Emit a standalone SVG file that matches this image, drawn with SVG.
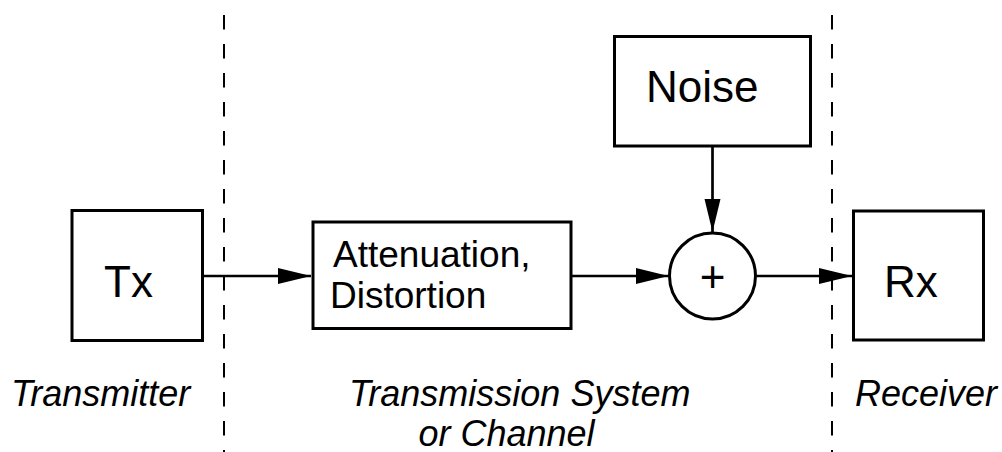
<svg xmlns="http://www.w3.org/2000/svg" width="1002" height="452" viewBox="0 0 1002 452">
  <defs>
    <style>
      .box { fill: #ffffff; stroke: #000000; stroke-width: 3; }
      .wire { fill: none; stroke: #000000; stroke-width: 2.7; }
      .divider { fill: none; stroke: #000000; stroke-width: 2; stroke-dasharray: 14.5 14.5; }
      .label { font-family: "Liberation Sans", Arial, Helvetica, sans-serif; fill: #000000; }
      .big { font-size: 44px; }
      .mid { font-size: 37px; }
      .caption { font-size: 36px; font-style: italic; }
    </style>
    <marker id="arrow" markerUnits="userSpaceOnUse" markerWidth="34" markerHeight="17" refX="33" refY="8" orient="auto">
      <path d="M0,0 L33,8 L0,16 Z" fill="#000000"/>
    </marker>
  </defs>

  <rect width="1002" height="452" fill="#ffffff"/>

  <!-- section dividers -->
  <g id="dividers">
    <line class="divider" x1="224" y1="15" x2="224" y2="452"/>
    <line class="divider" x1="832" y1="15" x2="832" y2="452"/>
  </g>

  <!-- signal path -->
  <g id="connectors">
    <line class="wire" x1="203" y1="276" x2="311" y2="276" marker-end="url(#arrow)"/>
    <line class="wire" x1="571" y1="276" x2="668.5" y2="276" marker-end="url(#arrow)"/>
    <line class="wire" x1="712.5" y1="146" x2="712.5" y2="232" marker-end="url(#arrow)"/>
    <line class="wire" x1="756.5" y1="276" x2="852" y2="276" marker-end="url(#arrow)"/>
  </g>

  <g id="tx">
    <rect class="box" x="72" y="210.5" width="130.5" height="130"/>
    <text class="label big" x="104" y="297">Tx</text>
  </g>

  <g id="channel">
    <rect class="box" x="313" y="222" width="258" height="106.5"/>
    <text class="label mid" x="333" y="266.5">Attenuation,</text>
    <text class="label mid" x="330" y="307.5">Distortion</text>
  </g>

  <g id="noise">
    <rect class="box" x="614.5" y="36.5" width="196" height="109.5"/>
    <text class="label big" x="646" y="101.5">Noise</text>
  </g>

  <g id="sum">
    <circle class="box" cx="712.5" cy="276" r="43" stroke-width="2.7"/>
    <text class="label big" x="712.5" y="292" text-anchor="middle">+</text>
  </g>

  <g id="rx">
    <rect class="box" x="853.5" y="211" width="130" height="129"/>
    <text class="label big" x="884" y="296.5">Rx</text>
  </g>

  <!-- section captions -->
  <g id="captions">
    <text class="label caption" x="11" y="405.5">Transmitter</text>
    <text class="label caption" x="349" y="405.5">Transmission System</text>
    <text class="label caption" x="418.5" y="446">or Channel</text>
    <text class="label caption" x="855" y="405.5">Receiver</text>
  </g>
</svg>
